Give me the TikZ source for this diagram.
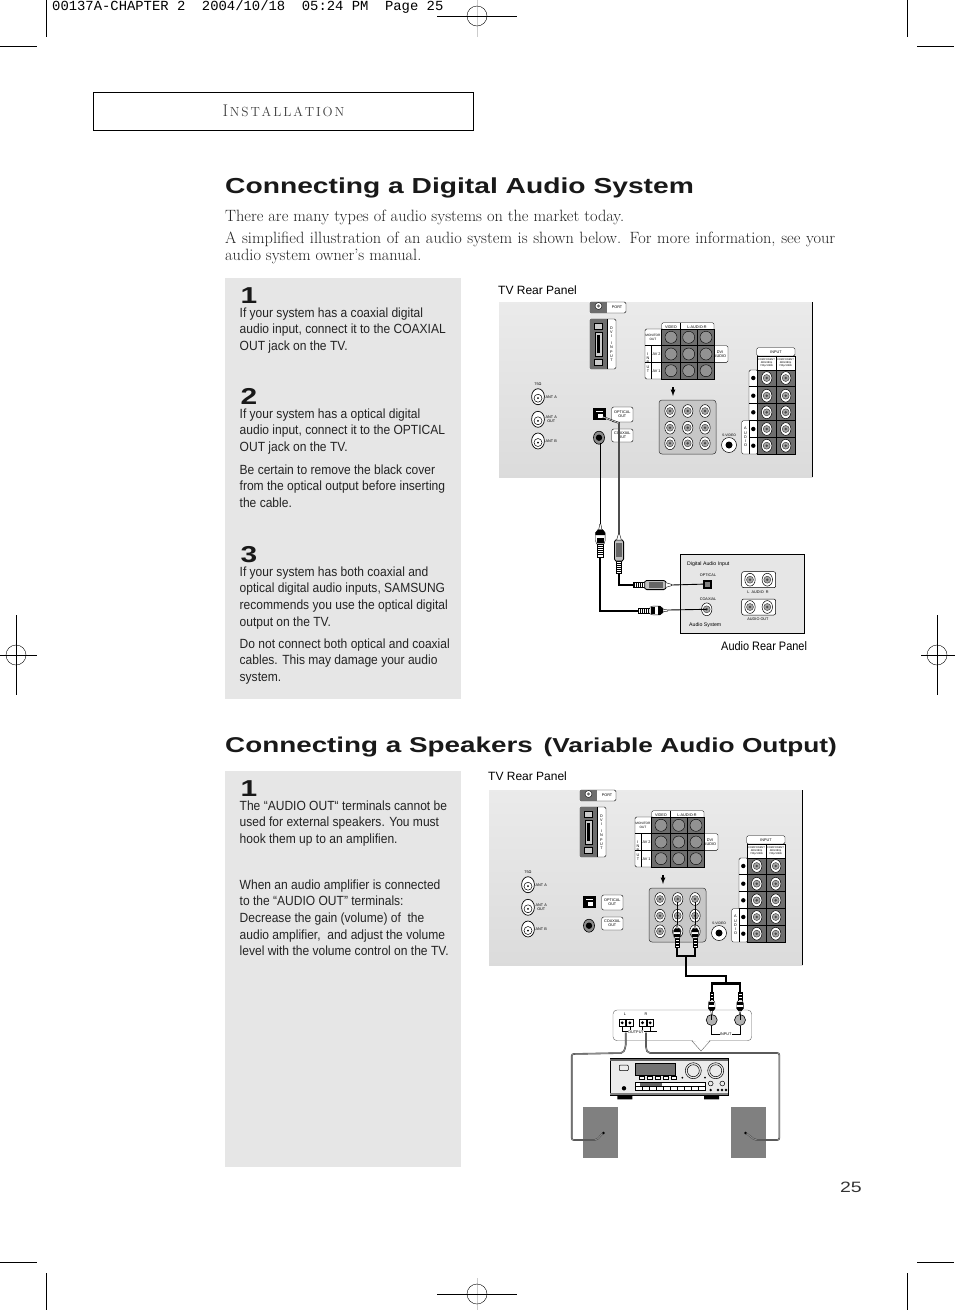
\documentclass[tikz,border=0pt]{standalone}
\usepackage{fontspec}
\setmainfont{Liberation Sans}
\newfontfamily\bookfont{Latin Modern Roman}
\newfontfamily\headfont[FakeStretch=1.3]{Liberation Sans}
\newfontfamily\stepfont[FakeStretch=0.905]{Liberation Sans}
\newfontfamily\labelfont[FakeStretch=0.89]{Liberation Sans}
\newfontfamily\slugfont{Liberation Mono}
\usetikzlibrary{positioning, calc}
\definecolor{boxgray}{RGB}{230,230,230}
\definecolor{blockgray}{RGB}{110,110,110}
\definecolor{holegray}{RGB}{146,146,146}
\definecolor{inkgray}{RGB}{35,35,35}

\tikzset{
    cropline/.style={black, line width=0.7pt},
    headline/.style={font=\headfont\bfseries\fontsize{21.7}{24}\selectfont, anchor=west, inner sep=0pt, text=black!90},
    bigdigit/.style={font=\headfont\bfseries\fontsize{23}{24}\selectfont, anchor=west, inner sep=0pt, text=black!90},
    bookline/.style={font=\bookfont\fontsize{16.35}{17}\selectfont, anchor=west, inner sep=0pt, text=inkgray},
    steptext/.style={font=\stepfont\fontsize{13.3}{16.6}\selectfont, anchor=north west, align=left, inner sep=0pt, text=inkgray},
    sidelabel/.style={font=\fontsize{12}{14}\selectfont, anchor=west, inner sep=0pt},
    tiny/.style={font=\fontsize{3.8}{4.2}\selectfont, align=center, inner sep=0pt},
    panelbox/.style={fill=white, draw=black, line width=0.4pt, rounded corners=1.5pt},
    darkblock/.style={fill=blockgray, draw=black, line width=0.5pt},
    cablethick/.style={black, line width=2.1pt},
    cablethin/.style={black, line width=0.9pt},
    speakerwire/.style={double=black!45, double distance=0.9pt, draw=black!75, line width=0.35pt, rounded corners=2pt},
}

% jack with ring and centre
\newcommand{\ringjack}[2]{
    \filldraw[fill=white, draw=black, line width=0.5pt] (#1,#2) ellipse (5.2 and 6.4);
    \filldraw[fill=black!35, draw=black!80, line width=0.4pt] (#1,#2) circle (3.5);
    \fill[black!70] (#1,#2) circle (1.4);
}

% round plug, drawn from the cable end along the local x axis
\newcommand{\roundplug}[4]{
    \begin{scope}[shift={(#1,#2)}, rotate=#3, scale=#4, line width=0.4pt]
        \filldraw[fill=white, draw=black] (0,-2.4) rectangle (12,2.4);
        \foreach \u in {2,4,...,10} {\draw[black, line width=0.8pt] (\u,-2.4) -- (\u,2.4);}
        \filldraw[fill=white, draw=black] (12,-3.4) -- (15,-4.4) -- (22,-4.4) -- (25,-2) -- (25,2) -- (22,4.4) -- (15,4.4) -- (12,3.4) -- cycle;
        \fill[black] (13,-3.4) rectangle (17,3.4);
        \fill[black] (20,-4.4) -- (22,-4.4) -- (25,-2) -- (25,2) -- (22,4.4) -- (20,4.4) -- cycle;
        \filldraw[fill=white, draw=black] (25,-1.4) -- (30,-0.5) -- (30,0.5) -- (25,1.4) -- cycle;
    \end{scope}
}

% optical plug, same way round
\newcommand{\squareplug}[3]{
    \begin{scope}[shift={(#1,#2)}, rotate=#3, line width=0.4pt]
        \filldraw[fill=white, draw=black] (0,-2.6) rectangle (12,2.6);
        \foreach \u in {2,4,...,10} {\draw[black, line width=0.8pt] (\u,-2.6) -- (\u,2.6);}
        \filldraw[fill=black!25, draw=black, line width=0.8pt] (12,-3.2) -- (14,-4.6) -- (31,-4.6) -- (33,-3.4) -- (33,3.4) -- (31,4.6) -- (14,4.6) -- (12,3.2) -- cycle;
        \fill[black!60] (16,-2.8) rectangle (30,2.8);
        \filldraw[fill=white, draw=black] (33,-2.4) -- (39,-0.6) -- (39,0.6) -- (33,2.4) -- cycle;
    \end{scope}
}

% rear panel of the set, top left of the grey field at #1,#2
\newcommand{\tvpanel}[2]{
    \begin{scope}[shift={(#1,#2)}]
        \shade[top color=black!8, bottom color=black!14] (0,0) rectangle (313.5,175);
        \draw[black, line width=0.8pt] (313.5,0) -- (313.5,175);

        % port and dvi
        \draw[panelbox] (91,0) rectangle (127,11);
        \fill[blockgray] (91,0) rectangle (108,11);
        \filldraw[fill=white, draw=black] (99.5,4) circle (3.5);
        \fill[black!60] (99.5,4) circle (1.6);
        \node[tiny] (port) at (118,5.5) {PORT};
        \draw[panelbox] (91,17) rectangle (117,67);
        \fill[blockgray] (91.3,17.3) rectangle (108,66.7);
        \draw[black, line width=0.4pt] (108,17) -- (108,67);
        \filldraw[fill=black!20, draw=black] (96,30) rectangle (103,54);
        \fill[black] (98,33) rectangle (101,51);
        \filldraw[fill=black!20, draw=black] (95.5,21) rectangle (103.5,27);
        \filldraw[fill=black!20, draw=black] (95.5,57) rectangle (103.5,63);
        \node[tiny] (dvi) at (112.5,42) {D\\V\\I\\[3pt]I\\N\\P\\U\\T};

        % video and audio
        \draw[panelbox] (162.7,20.7) rectangle (215,30);
        \draw[panelbox] (146,27) rectangle (165,77);
        \draw[panelbox] (212,43.7) rectangle (229,60.4);
        \draw[darkblock] (162.7,27) rectangle (215,77);
        \draw[black, line width=0.5pt] (181,20.7) -- (181,77) (198.5,27) -- (198.5,77);
        \draw[black, line width=0.5pt] (146,43.7) -- (215,43.7) (146,60.4) -- (215,60.4) (152,43.7) -- (152,77);
        \foreach \x in {172,189.7,207} {
            \foreach \y in {35.3,52,68.7} {
                \filldraw[fill=holegray, draw=black, line width=0.4pt] (\x,\y) circle (6);
            }
        }
        \node[tiny] (video) at (172,25) {VIDEO};
        \node[tiny] (audiolr) at (198,25) {L-AUDIO-R};
        \node[tiny, font=\fontsize{3.2}{3.8}\selectfont] (monitor) at (154,35.5) {MONITOR\\OUT};
        \node[tiny] (inputv) at (149,60.5) {I\\N\\P\\U\\T};
        \node[tiny] (av2) at (157.5,52) {AV 2};
        \node[tiny] (av1) at (157.5,69) {AV 1};
        \node[tiny] (dviaudio) at (221,52) {DVI\\AUDIO};
        \draw[black, line width=1.2pt, -latex] (174,85) -- (174,94);

        % nine jacks
        \filldraw[fill=black!22, draw=black!80, line width=0.5pt, rounded corners=3pt] (160,98) rectangle (217,152);
        \foreach \x in {171,188.7,206} {
            \foreach \y in {109,125.7,141.3} {
                \ringjack{\x}{\y}
            }
        }

        % s-video
        \filldraw[fill=white, draw=black, line width=0.5pt] (230,143) circle (7.5);
        \fill[black] (230,143) circle (3.5);
        \node[tiny, font=\fontsize{3.4}{4}\selectfont] (svideo) at (230,133.5) {S-VIDEO};

        % component block
        \draw[panelbox] (257.7,45.7) rectangle (296,54);
        \draw[panelbox] (250,68) rectangle (259,120);
        \draw[panelbox] (242.7,118.7) rectangle (259,152);
        \fill[white, draw=black, line width=0.4pt] (258,53.7) rectangle (296,68);
        \draw[black, line width=0.4pt] (277,53.7) -- (277,68);
        \draw[darkblock] (258,68) rectangle (296,152);
        \draw[black, line width=0.5pt] (277,68) -- (277,152);
        \foreach \y in {84.7,101.3,118.7,135} {
            \draw[black, line width=0.5pt] (250,\y) -- (296,\y);
        }
        \draw[black, line width=0.5pt] (250,118.7) -- (250,152);
        \foreach \y in {76,93.7,110.3,127,143.7} {
            \ringjack{267.7}{\y}
            \ringjack{286.7}{\y}
            \fill[black] (254.3,\y) circle (2.2);
        }
        \node[tiny] (inputc) at (277,49.8) {INPUT};
        \node[tiny, font=\fontsize{2.6}{3}\selectfont] (compl) at (267.5,61) {COMPONENT\\480i/480p\\720p/1080i};
        \node[tiny, font=\fontsize{2.6}{3}\selectfont] (compr) at (286.5,61) {COMPONENT\\480i/480p\\720p/1080i};
        \node[tiny] (audiov) at (246.5,135) {A\\U\\D\\I\\O};

        % antennas
        \foreach \y/\t in {94.7/ANT A, 117.3/{ANT A\\OUT}, 139/ANT B} {
            \filldraw[fill=white, draw=black, line width=0.7pt] (39,\y) ellipse (6.4 and 8);
            \filldraw[fill=white, draw=black, line width=0.5pt] (39,\y+1.5) circle (4);
            \fill[black] (39,\y+1.5) circle (1);
            \node[tiny, anchor=west] at (46.5,\y) {\t};
        }
        \node[tiny] (ohms) at (39,82) {75Ω};

        % optical and coaxial out
        \coordinate (opticalhole) at (104,115);
        \coordinate (coaxialhole) at (101.3,141);
        \fill[black] (94,106) rectangle (106.7,118);
        \fill[white] (96.5,109) rectangle (104,110);
        \fill[white] (99,112) rectangle (104,116);
        \draw[panelbox, rounded corners=2pt] (112.7,105) rectangle (134,120);
        \node[tiny] (opticalout) at (123.3,112.5) {OPTICAL\\OUT};
        \draw[panelbox, rounded corners=2pt] (112.7,127) rectangle (134,140);
        \node[tiny] (coaxialout) at (123.3,133.5) {COAXIAL\\OUT};
        \filldraw[fill=black!45, draw=black, line width=0.6pt] (100,135.7) ellipse (5.5 and 6.5);
        \fill[black] (100,135.7) circle (3.2);
    \end{scope}
}

\begin{document}
\begin{tikzpicture}[x=1pt, y=-1pt]
    \useasboundingbox (0,0) rectangle (954,1310);
    \fill[white] (0,0) rectangle (954,1310);

    % --- Marks round the page ---
    \draw[cropline] (46,0) -- (46,37) (0,46) -- (37,46);
    \draw[cropline] (907,0) -- (907,37) (917,46) -- (954,46);
    \draw[cropline] (46,1273) -- (46,1310) (0,1262) -- (37,1262);
    \draw[cropline] (907,1273) -- (907,1310) (917,1262) -- (954,1262);
    \foreach \x/\y in {477/16, 477/1294} {
        \draw[black!20, line width=0.9pt] (\x,\y-16) -- (\x,\y+21);
        \draw[black, line width=0.4pt] (\x-40,\y) -- (\x+40,\y);
        \draw[black, line width=0.4pt] (\x,\y) circle (10);
    }
    \foreach \x/\y in {16/655, 937/655} {
        \draw[black, line width=0.4pt] (\x-16,\y) -- (\x+21,\y);
        \draw[black, line width=0.4pt] (\x,\y-40) -- (\x,\y+40);
        \draw[black, line width=0.4pt] (\x,\y) circle (10);
    }
    \node[font=\slugfont\fontsize{13.87}{14}\selectfont, anchor=west, inner sep=0pt] (slug) at (52,7) {00137A-CHAPTER 2\ \ 2004/10/18\ \ 05:24 PM\ \ Page 25};

    % --- Page header ---
    \draw[black, line width=0.7pt] (93.5,92.5) rectangle (473,130.5);
    \node[font=\bookfont\fontsize{17}{18}\selectfont, text=black!75, inner sep=0pt] (chapter) at (283.5,111) {I\kern1.6pt{\fontsize{13.2}{14}\selectfont N\kern1.9pt S\kern1.9pt T\kern1.9pt A\kern1.9pt L\kern1.9pt L\kern1.9pt A\kern1.9pt T\kern1.9pt I\kern1.9pt O\kern1.9pt N}};

    % --- Digital audio ---
    \node[headline] (digitaltitle) at (225,188) {Connecting a Digital Audio System};
    \node[bookline] (introa) at (225,217) {There are many types of audio systems on the market today.};
    \node[bookline] (introb) at (225,239) {\makebox[610pt][s]{A simplified illustration of an audio system is shown below. For more information, see your}};
    \node[bookline] (introc) at (225,256) {audio system owner’s manual.};

    \fill[boxgray] (225,278) rectangle (461,699);
    \node[bigdigit] (digitalone) at (240.5,295.5) {1};
    \node[steptext] (digitalonetext) at (239.5,307.5) {If your system has a coaxial digital\\audio input, connect it to the COAXIAL\\OUT jack on the TV.};
    \node[bigdigit] (digitaltwo) at (240.5,396.5) {2};
    \node[steptext] (digitaltwotext) at (239.5,408.5) {If your system has a optical digital\\audio input, connect it to the OPTICAL\\OUT jack on the TV.};
    \node[steptext] (digitaltwomore) at (239.5,464.5) {Be certain to remove the black cover\\from the optical output before inserting\\the cable.};
    \node[bigdigit] (digitalthree) at (240.5,554.5) {3};
    \node[steptext] (digitalthreetext) at (239.5,566.5) {If your system has both coaxial and\\optical digital audio inputs, SAMSUNG\\recommends you use the optical digital\\output on the TV.};
    \node[steptext] (digitalthreemore) at (239.5,638.5) {Do not connect both optical and coaxial\\cables. This may damage your audio\\system.};

    \node[sidelabel] (tvlabel) at (498,290.5) {TV Rear Panel};
    \tvpanel{499}{302}

    % --- Audio rear panel ---
    \filldraw[fill=boxgray, draw=black, line width=0.6pt] (680,554) rectangle (804,633);
    \node[tiny, font=\fontsize{5.2}{6}\selectfont, anchor=west] (digitalinput) at (687,564) {Digital Audio Input};
    \node[tiny] (opticallabel) at (708,575) {OPTICAL};
    \node[tiny] (coaxlabel) at (708,599) {COAXIAL};
    \node[tiny, font=\fontsize{5.2}{6}\selectfont, anchor=west] (audiosystem) at (689,625) {Audio System};
    \node[tiny] (audiolabel) at (758,592) {L\ \ AUDIO\ \ R};
    \node[tiny] (audiooutlabel) at (758,619) {AUDIO OUT};
    \foreach \y in {571.7,599} {
        \draw[fill=white, draw=black, line width=0.5pt, rounded corners=2pt] (741.7,\y) rectangle (775.7,\y+16);
        \ringjack{750}{\y+8}
        \ringjack{767.3}{\y+8}
    }
    \node[fill=black, minimum size=9pt, inner sep=0pt] (opticalin) at (707.5,584) {};
    \fill[black!50] (705,581.5) rectangle (710,586.5);
    \ringjack{706.7}{609.3}
    \coordinate (coaxialin) at (706.7,609.3);

    \coordinate (coaxialout) at (600.3,443);
    \coordinate (opticalout) at (603,417);
    \draw[cablethin] (coaxialout) -- (600.3,525);
    \draw[black, line width=1.6pt] (opticalout) -- (619,423) -- (619,535);
    \draw[black!15, line width=0.7pt] (opticalout) -- (619,423) -- (619,535);
    \coordinate (coaxialbend) at (600.3,610.7);
    \draw[cablethick] (600.3,557) -- (coaxialbend) -- (638,610.7);
    \draw[cablethick] (619,573) -- (619,585) -- (632.7,585);
    \draw[cablethin] (668,610) -- (coaxialin);
    \draw[cablethin] (671.7,585) -- (opticalin);
    \roundplug{600.3}{557}{90}{1.1}
    \squareplug{619}{573}{90}
    \squareplug{632.7}{585}{0}
    \roundplug{638}{610.5}{0}{1}
    \node[sidelabel, font=\labelfont\fontsize{12.3}{14}\selectfont] (audiorear) at (721,646.5) {Audio Rear Panel};

    % --- Speakers ---
    \node[headline] (speakertitle) at (225,747) {\fontsize{21.4}{24}\selectfont Connecting a Speakers\kern3pt{} {\fontsize{20.2}{24}\selectfont (Variable Audio Output)}};

    \fill[boxgray] (225,771) rectangle (461,1167);
    \node[bigdigit] (speakerone) at (240.5,788.5) {1};
    \node[steptext] (speakeronetext) at (239.5,800.5) {The “AUDIO OUT“ terminals cannot be\\used for external speakers. You must\\hook them up to an amplifien.};
    \node[steptext] (speakermore) at (239.5,879.5) {When an audio amplifier is connected\\to the “AUDIO OUT” terminals:\\Decrease the gain (volume) of\ \ the\\audio amplifier,\ \ and adjust the volume\\level with the volume control on the TV.};

    \node[sidelabel] (tvlabelb) at (488,776.5) {TV Rear Panel};
    \tvpanel{489}{790}

    % --- Amplifier input strip ---
    \filldraw[fill=white, draw=black!60, line width=0.4pt, rounded corners=4pt] (613,1010) rectangle (751.7,1040.7);
    \filldraw[fill=white, draw=black!60, line width=0.4pt] (697,1040.7) -- (692,1041) -- (701,1051) -- (710,1041) -- (705,1040.7);
    \fill[white] (692.6,1039.9) rectangle (709.4,1041.4);
    \foreach \x in {619,626.7,639.3,647} {
        \filldraw[fill=white, draw=black, line width=0.6pt] (\x,1019) rectangle (\x+6.5,1026.7);
        \fill[black] (\x+3.2,1022.8) circle (1.6);
        \draw[black, line width=0.5pt] (\x+3.2,1026.7) -- (\x+3.2,1031);
    }
    \draw[black, line width=0.5pt] (622.2,1031) -- (636.5,1031) (642.5,1031) -- (657,1031);
    \node[tiny] (leftlabel) at (625,1014) {L};
    \node[tiny] (rightlabel) at (646,1014) {R};
    \node[tiny, fill=white, inner sep=0.5pt] (outputlabel) at (636,1032) {OUTPUT};
    \draw[black, line width=0.5pt] (711.7,1026) -- (711.7,1034) -- (740,1034) -- (740,1026);
    \node[tiny, fill=white, inner sep=0.5pt] (inputlabel) at (725.7,1034) {INPUT};
    \filldraw[fill=black!30, draw=black, line width=0.6pt] (711.7,1020) circle (5.5);
    \filldraw[fill=black!30, draw=black, line width=0.6pt] (740,1020) circle (5.5);

    % --- Cable from the set to the input strip ---
    \coordinate (jackleft) at (677,901.7);
    \coordinate (jackright) at (695,901.7);
    \coordinate (inleft) at (711.7,1020);
    \coordinate (inright) at (740,1020);
    \draw[cablethin] (jackleft) -- (677,925);
    \draw[cablethin] (jackright) -- (695,925);
    \draw[cablethick] (677,947) -- (677,956) -- (695,956) -- (695,947);
    \draw[cablethick] (686,956) -- (686,975.7) -- (725.7,975.7) -- (725.7,983);
    \draw[cablethick] (711.7,992) -- (711.7,983.5) -- (740,983.5) -- (740,992);
    \draw[cablethin] (711.7,1012) -- (inleft);
    \draw[cablethin] (740,1012) -- (inright);
    \roundplug{677}{947}{90}{0.75}
    \roundplug{695}{947}{90}{0.75}
    \roundplug{711.7}{992}{-90}{0.75}
    \roundplug{740}{992}{-90}{0.75}

    % --- Receiver ---
    \fill[black] (617.3,1094) rectangle (632.3,1099.3) (704,1094) rectangle (719,1099.3);
    \filldraw[fill=black!8, draw=black, line width=0.9pt] (610,1058.5) rectangle (728.3,1095);
    \fill[black!60] (610,1058.5) rectangle (728.3,1061);
    \fill[black!50] (610,1092.5) rectangle (728.3,1095);
    \filldraw[fill=black!55, draw=black, line width=0.5pt] (635.7,1063.3) rectangle (675.7,1075.7);
    \draw[black, line width=0.5pt, rounded corners=1pt] (619.3,1065) rectangle (628.3,1070.7);
    \foreach \x in {639,647,655,663,671} {
        \filldraw[fill=white, draw=black, line width=0.5pt] (\x,1076.5) rectangle (\x+5,1079);
    }
    \draw[black, line width=0.5pt] (693.3,1070.7) circle (8);
    \draw[black, line width=0.5pt] (693.3,1070.7) circle (6);
    \draw[black, line width=0.5pt] (715.7,1070.7) circle (8);
    \draw[black, line width=0.5pt] (715.7,1070.7) circle (6);
    \foreach \x in {682.3,705} {\fill[black] (\x,1077.7) circle (1);}
    \draw[fill=white, draw=black, line width=0.5pt] (635.7,1082.3) rectangle (705,1090.7);
    \foreach \x in {642,649,...,698} {\draw[black, line width=0.4pt] (\x,1086) -- (\x,1090.7);}
    \draw[black, line width=0.4pt] (635.7,1086) -- (705,1086);
    \fill[black!60] (640,1083) rectangle (662,1085.5);
    \fill[black] (624,1088.3) circle (2.2);
    \foreach \x in {710.7,722.3} {\draw[black, line width=0.5pt] (\x,1083.5) circle (2.4);}
    \foreach \x in {710.7,718,722,726} {\fill[black] (\x,1090) circle (1.3);}

    % --- Speakers ---
    \node[fill=black!50, minimum width=35pt, minimum height=51pt, inner sep=0pt] (speakerleft) at (600.2,1132.2) {};
    \node[fill=black!50, minimum width=35pt, minimum height=51pt, inner sep=0pt] (speakerright) at (748.5,1132.2) {};
    \coordinate (outleft) at (625.7,1032.7);
    \coordinate (outright) at (646,1032.7);
    \draw[speakerwire] (outleft) -- (625.7,1047) -- (623,1053) -- (571.7,1054) -- (571.7,1140) -- (596.7,1140) -- (603,1133);
    \draw[speakerwire] (outright) -- (646,1049) -- (648,1053) -- (779.3,1053) -- (779.3,1140) -- (755,1140) -- (746,1133);
    \fill[black] (603.5,1133) circle (1.3) (745.5,1133) circle (1.3);

    % --- Folio ---
    \node[font=\headfont\fontsize{15}{16}\selectfont, anchor=east, inner sep=0pt, text=black!80] (folio) at (862,1187) {25};
\end{tikzpicture}
\end{document}
